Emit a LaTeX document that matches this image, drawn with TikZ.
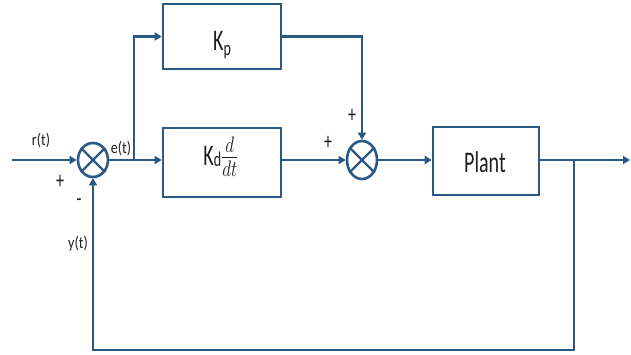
\documentclass[tikz,border=0pt]{standalone}
\usepackage{graphicx}
\usepackage{fontspec}
\setmainfont{Carlito}
\usetikzlibrary{arrows.meta,shapes.geometric}
\definecolor{lc}{RGB}{44,88,134}
\definecolor{tc}{RGB}{30,30,30}
\newcommand{\tallx}[2][1.5]{\scalebox{1}[#1]{#2}}
\begin{document}
\begin{tikzpicture}[x=1pt,y=-1pt,
  line join=miter,
  blk/.style={draw=lc, line width=2.6pt, rectangle, inner sep=0pt},
  sumj/.style={draw=lc, line width=2.6pt, ellipse, inner sep=0pt, minimum width=30pt},
  con/.style={draw=lc, line width=2.8pt},
  arr/.style={con, -{Triangle[length=7pt,width=8pt]}},
  lab/.style={inner sep=0pt, text=tc, font=\fontsize{14}{14}\selectfont},
  sgn/.style={inner sep=0pt, text=tc, font=\fontsize{16}{16}\selectfont},
  big/.style={inner sep=0pt, text=tc, font=\fontsize{20}{20}\selectfont}]
\useasboundingbox (0,0) rectangle (631,354);

% blocks
\node[blk, minimum width=118pt, minimum height=65pt] (kp) at (222,36.5) {};
\node[blk, minimum width=118pt, minimum height=69pt] (kd) at (222,162.5) {};
\node[blk, minimum width=106pt, minimum height=68pt] (plant) at (486,161) {};

% summing junctions
\node[sumj, minimum height=34pt] (s1) at (93,160) {};
\node[sumj, minimum height=38pt] (s2) at (362,160) {};
\draw[con, line width=2.4pt] (s1.45) -- (s1.225) (s1.135) -- (s1.315);
\draw[con, line width=2.4pt] (s2.45) -- (s2.225) (s2.135) -- (s2.315);

% block texts
\node[big, anchor=base] (kptxt) at (222,50) {\tallx{K\raisebox{-0.35ex}{\fontsize{14}{14}\selectfont p}}};
\node[big, anchor=base] (kdtxt) at (221,165) {\tallx{K\raisebox{-0.1ex}{\fontsize{14}{14}\selectfont d}}\tallx[1.3]{\fontsize{23}{23}\selectfont$\frac{d}{dt}$}};
\node[big, anchor=base] (ptxt) at (485,172) {\tallx{Plant}};

% coordinates
\coordinate (in) at (12,160);
\coordinate (b1) at (134,160);
\coordinate (out) at (630,160);
\coordinate (b2) at (574,160);
\coordinate (c1) at (574,350);

% connectors
\draw[arr] (in) -- (s1.west);
\draw[arr] (s1.east) -- (s1.east -| kd.west);
\draw[arr] (b1) |- (kp.west);
\draw[arr] (kp.east) -| (s2.north);
\draw[arr] (kd.east |- s2) -- (s2.west);
\draw[arr] (s2.east) -- (s2.east -| plant.west);
\draw[arr] (plant.east |- s2) -- (out);
\draw[arr] (b2) -- (c1) -| (s1.south);

% labels
\node[lab] (rt) at (41,141) {\tallx[1.2]{r(t)}};
\node[lab] (et) at (121,149) {\tallx[1.2]{e(t)}};
\node[lab] (yt) at (78,244) {\tallx[1.2]{y(t)}};
\node[sgn] (p1) at (60,182) {\tallx{+}};
\node[sgn] (m1) at (79,203) {\tallx{-}};
\node[sgn] (p2) at (352,116) {\tallx{+}};
\node[sgn] (p3) at (328,143) {\tallx{+}};
\end{tikzpicture}
\end{document}
